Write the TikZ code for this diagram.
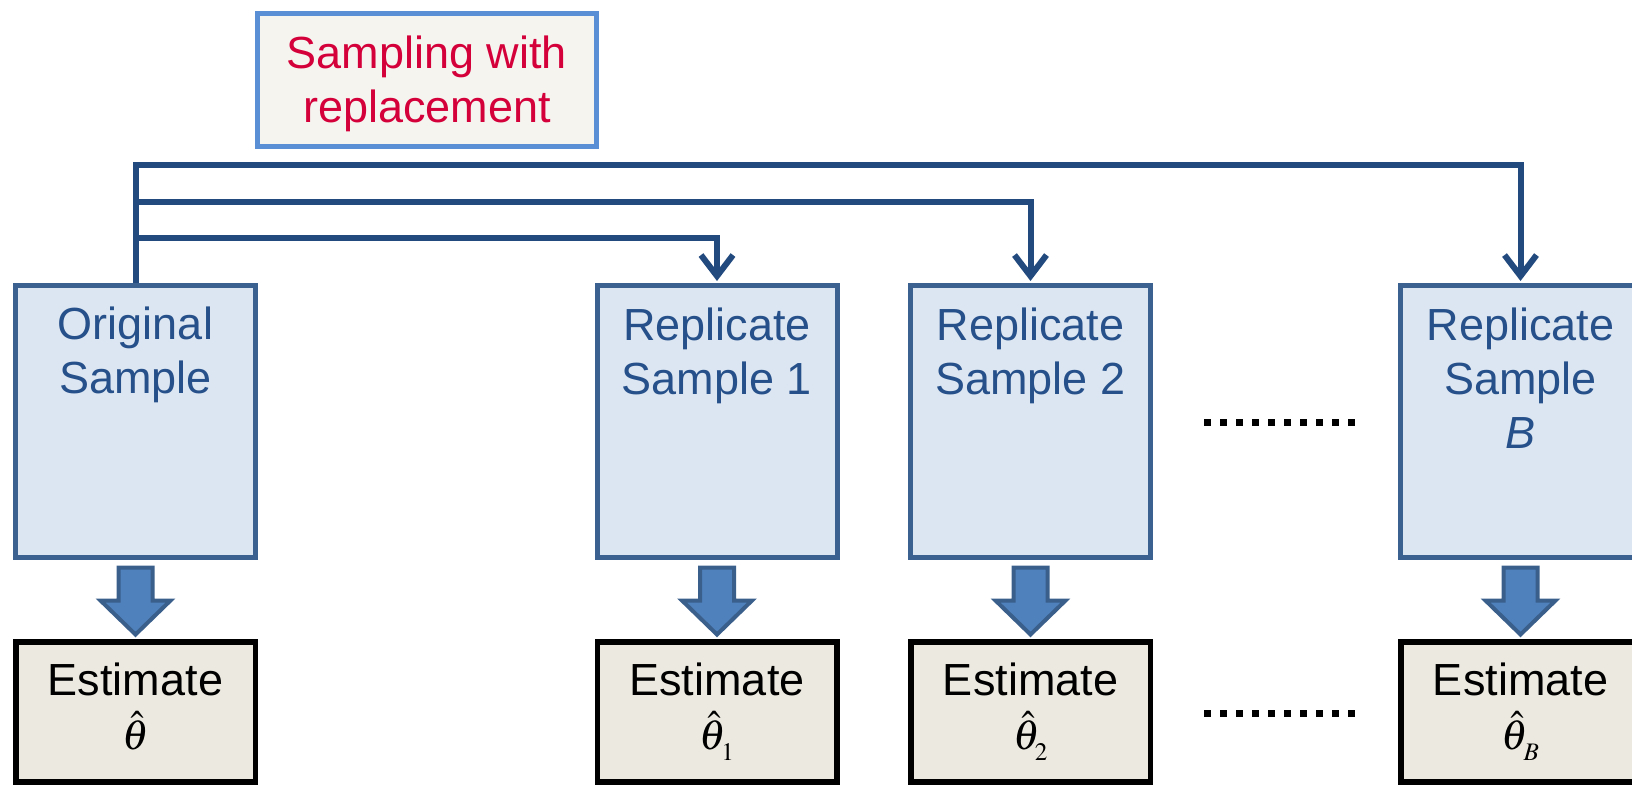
\documentclass[tikz,border=0pt]{standalone}
\usepackage{mathptmx}
\usepackage[no-math]{fontspec}
\setmainfont{Liberation Sans}
\usetikzlibrary{arrows.meta,calc}
\definecolor{boxfill}{HTML}{DCE6F2}
\definecolor{boxborder}{HTML}{3A6190}
\definecolor{textblue}{HTML}{26508A}
\definecolor{connblue}{HTML}{224A7E}
\definecolor{topborder}{HTML}{5B8FD5}
\definecolor{topfill}{HTML}{F5F4EF}
\definecolor{redtxt}{HTML}{D4003A}
\definecolor{estfill}{HTML}{ECEAE0}
\definecolor{arrowfill}{HTML}{4F81BD}
\definecolor{arrowborder}{HTML}{3A5F8B}
\newcommand{\thsz}{\fontsize{42}{54}\selectfont}
\newcommand{\thsub}[1]{_{\lower5pt\hbox{$\scriptscriptstyle #1$}}}
\tikzset{
  samplebox/.style={draw=boxborder, fill=boxfill, line width=5pt, minimum width=240pt, minimum height=272pt, inner sep=0pt},
  estbox/.style={draw=black, fill=estfill, line width=5.5pt, minimum width=239.5pt, minimum height=140pt, inner sep=0pt},
  topbox/.style={draw=topborder, fill=topfill, line width=5pt, minimum width=339pt, minimum height=133pt, inner sep=0pt},
  bluetext/.style={text=textblue, font=\fontsize{45}{54}\selectfont, align=center, inner sep=0pt, anchor=north},
  esttext/.style={text=black, font=\fontsize{45}{54}\selectfont, align=center, inner sep=0pt, anchor=north},
  redtext/.style={text=redtxt, font=\fontsize{45}{54}\selectfont, align=center, inner sep=0pt, anchor=north},
  conn/.style={draw=connblue, line width=6pt},
  connarrow/.style={conn, -{Straight Barb[length=21pt,width=32pt]}, shorten >=2pt},
  blockarrow/.style={draw=arrowborder, fill=arrowfill, line width=4pt},
  dotrow/.style={draw=black, line width=7pt, dash pattern=on 7pt off 9pt}
}
\begin{document}
\begin{tikzpicture}[x=1pt,y=-1pt]
\useasboundingbox (0,0) rectangle (1632,785);
\clip (0,0) rectangle (1632,785);

% sample boxes
\node[samplebox] (o)  at (135.5,421.5) {};
\node[samplebox] (r1) at (717,421.5) {};
\node[samplebox] (r2) at (1030.5,421.5) {};
\node[samplebox] (rB) at (1520.5,421.5) {};

% estimate boxes
\node[estbox] (eo)  at (135.5,712) {};
\node[estbox] (e1)  at (717,712) {};
\node[estbox] (e2)  at (1030.5,712) {};
\node[estbox] (eB)  at (1520.5,712) {};

% top label box
\node[topbox] (sw) at (427,80) {};
\node[redtext] (sw-t) at ($(sw.north)+(0,25)$) {Sampling with\\replacement};

% connectors
\coordinate (h1) at (0,164.7);
\coordinate (h2) at (0,201.5);
\coordinate (h3) at (0,237.5);
\draw[connarrow] (o.north) -- (o.north |- h1) -| (rB.north);
\draw[connarrow] (o.north |- h2) -| (r2.north);
\draw[connarrow] (o.north |- h3) -| (r1.north);

% block arrows
\foreach \n/\m in {o/eo,r1/e1,r2/e2,rB/eB}{
  \draw[blockarrow] ($(\n.south)+(-17,7.5)$) -- ++(34,0) -- ++(0,33) -- ++(18,0)
    -- ($(\n.south)+(0,74.5)$) -- ($(\n.south)+(-35,40.5)$) -- ++(18,0) -- cycle;
}

% texts
\node[bluetext] (o-t)  at ($(o.north)+(0,23.5)$) {Original\\Sample};
\node[bluetext] (r1-t) at ($(r1.north)+(0,24.3)$) {Replicate\\Sample 1};
\node[bluetext] (r2-t) at ($(r2.north)+(0,24.3)$) {Replicate\\Sample 2};
\node[bluetext] (rB-t) at ($(rB.north)+(0,24.3)$) {Replicate\\Sample\\\textit{B}};

\node[esttext] (eo-t) at ($(eo.north)+(0,23.5)$) {Estimate\\\thsz$\hat{\theta}$};
\node[esttext] (e1-t) at ($(e1.north)+(0,23.5)$) {Estimate\\\thsz$\hat{\theta}\thsub{1}$};
\node[esttext] (e2-t) at ($(e2.north)+(0,23.5)$) {Estimate\\\thsz$\hat{\theta}\thsub{2}$};
\node[esttext] (eB-t) at ($(eB.north)+(0,23.5)$) {Estimate\\\thsz$\hat{\theta}\thsub{B}$};

% ellipsis dots
\draw[dotrow] (1204,422) -- (1356,422);
\draw[dotrow] (1204,713.5) -- (1356,713.5);
\end{tikzpicture}
\end{document}
